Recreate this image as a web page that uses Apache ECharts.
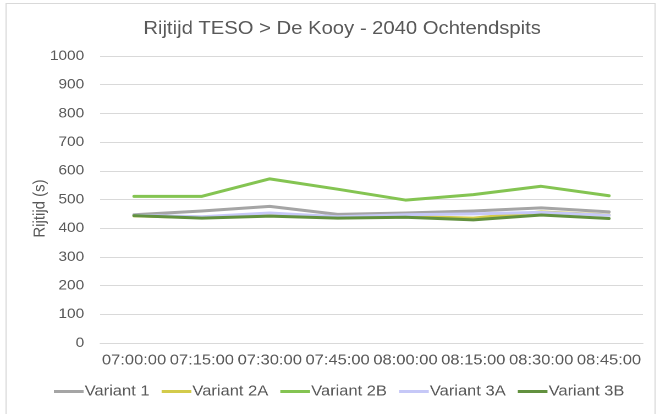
<!DOCTYPE html>
<html>
<head>
<meta charset="utf-8">
<script src="https://cdn.jsdelivr.net/npm/echarts@6/dist/echarts.min.js"></script>
<style>
  html, body { margin: 0; padding: 0; background: #fff; overflow: hidden; }
  /* the chart is laid out 600px wide and shown slightly widened to fill 660px */
  #chart { width: 600px; height: 414px; transform: scaleX(1.1); transform-origin: 0 0; }
</style>
</head>
<body>
<div id="chart"></div>
<script>
// Travel time per departure slot (seconds)
const categories = ['07:00:00', '07:15:00', '07:30:00', '07:45:00', '08:00:00', '08:15:00', '08:30:00', '08:45:00'];
const variant1  = [447, 460, 476, 448, 453, 460, 471, 457];
const variant2A = [443, 437, 445, 437, 441, 435, 457, 446];
const variant2B = [511, 511, 572, 536, 498, 517, 546, 513];
const variant3A = [445, 440, 453, 440, 447, 450, 455, 445];
const variant3B = [444, 435, 442, 435, 438, 429, 446, 434];
const seriesNames = ['Variant 1', 'Variant 2A', 'Variant 2B', 'Variant 3A', 'Variant 3B'];
const seriesColors = ['#A5A5A5', '#D3CB4B', '#84C452', '#C6C8F7', '#62913F'];
const seriesData = [variant1, variant2A, variant2B, variant3A, variant3B];

const font = 'Liberation Sans, Arial, sans-serif';
const textColor = '#595959';

const chart = echarts.init(document.getElementById('chart'), null, { renderer: 'canvas', devicePixelRatio: 2 });
chart.setOption({
  animation: false,
  backgroundColor: '#fff',
  title: {
    text: 'Rijtijd TESO > De Kooy - 2040 Ochtendspits',
    left: 306,
    textAlign: 'center',
    top: 15,
    textStyle: { fontFamily: font, fontSize: 18.4, fontWeight: 'normal', color: textColor }
  },
  graphic: [{
    type: 'rect',
    shape: { x: 5.5, y: 3.5, width: 590, height: 420 },
    style: { fill: 'none', stroke: '#D9D9D9', lineWidth: 1 },
    silent: true
  }],
  grid: { left: 91, right: 15.5, top: 56, height: 287 },
  legend: {
    top: 384,
    left: 49,
    padding: 0,
    itemWidth: 27,
    itemHeight: 3,
    itemGap: 11,
    icon: 'rect',
    textStyle: { fontFamily: font, fontSize: 15, color: textColor, padding: [0, 0, 0, -4] },
    data: seriesNames
  },
  xAxis: {
    type: 'category',
    data: categories,
    boundaryGap: true,
    axisLine: { show: true, lineStyle: { color: '#D9D9D9' } },
    axisTick: { show: false },
    axisLabel: { fontFamily: font, fontSize: 15, color: textColor, margin: 10, interval: 0 }
  },
  yAxis: {
    type: 'value',
    min: 0,
    max: 1000,
    interval: 100,
    name: 'Rijtijd (s)',
    nameLocation: 'middle',
    nameGap: 47,
    nameMoveOverlap: false,
    nameTextStyle: { fontFamily: font, fontSize: 15, color: textColor, padding: [0, 18, 0, 0] },
    axisLine: { show: false },
    axisTick: { show: false },
    axisLabel: { fontFamily: font, fontSize: 14, color: textColor, margin: 14.5, formatter: v => String(v) },
    splitLine: { lineStyle: { color: '#D9D9D9', width: 1 } }
  },
  series: seriesNames.map((name, i) => ({
    name: name,
    type: 'line',
    data: seriesData[i],
    showSymbol: false,
    symbol: 'none',
    lineStyle: { width: 3, color: seriesColors[i], cap: 'round', join: 'round' },
    itemStyle: { color: seriesColors[i] }
  }))
});
</script>
</body>
</html>
